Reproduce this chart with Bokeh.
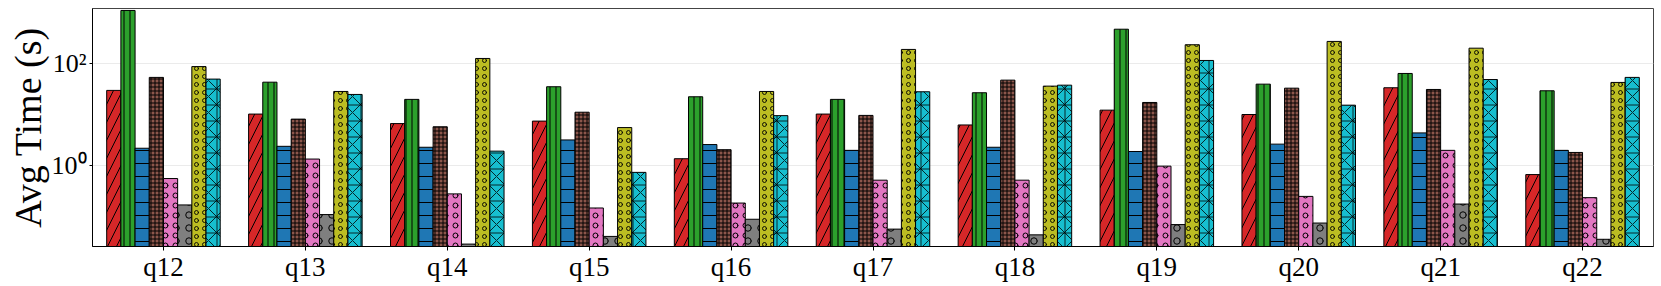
from bokeh.plotting import figure
from bokeh.models import ColumnDataSource, FactorRange, Range1d, FixedTicker
from bokeh.transform import dodge
from bokeh.embed import file_html
from bokeh.resources import INLINE

# ---------------- data ----------------
queries = ["q12", "q13", "q14", "q15", "q16", "q17", "q18", "q19", "q20", "q21", "q22"]

series_1 = [30, 10.3, 6.7, 7.5, 1.37, 10.3, 6.3, 12.3, 10.1, 33.8, 0.67]
series_2 = [1110, 43.5, 20, 35.4, 22.5, 20, 27, 476, 39.8, 64.5, 29.5]
series_3 = [2.2, 2.4, 2.3, 3.2, 2.6, 2.0, 2.3, 1.9, 2.65, 4.4, 2.0]
series_4 = [54, 8.2, 5.8, 11.2, 2.06, 9.7, 47.7, 17.4, 33.2, 31.3, 1.82]
series_5 = [0.56, 1.35, 0.28, 0.148, 0.185, 0.52, 0.52, 0.98, 0.25, 2.0, 0.236]
series_6 = [0.17, 0.11, 0.029, 0.041, 0.089, 0.057, 0.044, 0.070, 0.075, 0.177, 0.036]
series_7 = [88, 28.6, 127, 5.6, 28.6, 191, 36.4, 236, 274, 202, 43]
series_8 = [50, 25, 1.93, 0.74, 9.6, 28.2, 38, 116, 15.4, 49, 54]

series_names = ["series_1", "series_2", "series_3", "series_4",
                "series_5", "series_6", "series_7", "series_8"]
series_values = [series_1, series_2, series_3, series_4,
                 series_5, series_6, series_7, series_8]

y_ticks = [1, 100]
y_tick_labels = {1: "10\u2070", 100: "10\u00b2"}

# ---------------- styles ----------------
colors = ["#d62728", "#2ca02c", "#1f77b4", "#8c564b",
          "#e377c2", "#7f7f7f", "#bcbd22", "#17becf"]
# (pattern, scale, weight)
hatches = [("/", 18, 1), ("|", 6, 1), ("-", 13, 1), ("+", 4, 1),
           ("o", 10, 1), ("o", 13, 1), ("o", 8, 0.9), ("*", 16, 0.8)]

FONT = "Liberation Serif"

# ---------------- figure ----------------
data = {"q": queries}
for n, v in zip(series_names, series_values):
    data[n] = v
source = ColumnDataSource(data)

p = figure(x_range=FactorRange(*queries), y_axis_type="log",
           y_range=Range1d(0.026, 1213),
           width=1661, height=286,
           output_backend="svg", toolbar_location=None,
           min_border_left=92, min_border_right=8,
           min_border_top=8, min_border_bottom=40)

n_series = len(series_names)
bar_w = 0.1
for i, name in enumerate(series_names):
    off = (i - (n_series - 1) / 2) * bar_w
    pat, sc, wt = hatches[i]
    p.vbar(x=dodge("q", off, range=p.x_range), top=name, bottom=1e-4,
           width=bar_w, source=source,
           fill_color=colors[i], line_color="black", line_width=1,
           hatch_pattern=pat, hatch_scale=sc, hatch_color="black",
           hatch_weight=wt)

p.outline_line_color = "#444444"
p.outline_line_width = 1
p.background_fill_color = "white"
p.border_fill_color = "white"

p.xgrid.visible = False
p.ygrid.ticker = FixedTicker(ticks=y_ticks)
p.ygrid.grid_line_color = "#ebebeb"
p.ygrid.grid_line_width = 1

p.yaxis.ticker = FixedTicker(ticks=y_ticks)
p.yaxis.major_label_overrides = y_tick_labels
p.yaxis.axis_label = "Avg Time (s)"
p.yaxis.axis_label_text_font = FONT
p.yaxis.axis_label_text_font_size = "38px"
p.yaxis.axis_label_text_font_style = "normal"
p.yaxis.axis_label_text_color = "black"
p.yaxis.axis_label_text_line_height = 1.0
p.yaxis.axis_label_standoff = 0
p.yaxis.major_label_text_font = FONT
p.yaxis.major_label_text_font_size = "26px"
p.yaxis.major_label_text_color = "black"
p.yaxis.major_label_standoff = 3
p.yaxis.major_tick_out = 3
p.yaxis.major_tick_in = 0
p.yaxis.minor_tick_line_color = None
p.yaxis.axis_line_color = "black"

p.xaxis.major_label_text_font = FONT
p.xaxis.major_label_text_font_size = "27px"
p.xaxis.major_label_text_color = "black"
p.xaxis.major_label_standoff = 1
p.xaxis.major_tick_out = 4
p.xaxis.major_tick_in = 0
p.xaxis.axis_line_color = "black"
p.xaxis.major_tick_line_color = "black"

open("out.html", "w").write(file_html(p, INLINE))
